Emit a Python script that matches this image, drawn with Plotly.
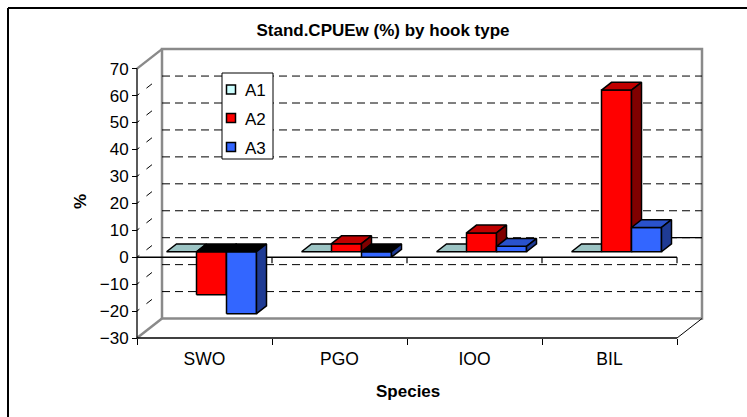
import plotly.graph_objects as go

# ---- data -------------------------------------------------------------
species = ["SWO", "PGO", "IOO", "BIL"]
hook_types = ["A1", "A2", "A3"]
a1 = [0, 0, 0, 0]
a2 = [-16, 3, 7, 60]
a3 = [-23, -2, 2, 9]
y_ticks = list(range(-30, 80, 10))

# ---- geometry (pixel frame of the 747x417 page) -------------------------
W, H = 747, 417
X0_PX, CAT_PX = 137.0, 135.0      # front value axis, width of one category
Y0_PX, UNIT_PX = 257.2, 2.694     # front zero level, pixels per percent
DEPTH_PX = (25.0, 19.5)           # oblique depth of the walls
DX = DEPTH_PX[0] / CAT_PX
DV = DEPTH_PX[1] / UNIT_PX
BAR_FRONT, BAR_BACK = 0.28, 0.68  # depth span of the columns
BAR_W = 2.0 / 9.0                 # three columns, gap width 150%
VMIN, VMAX = y_ticks[0], y_ticks[-1]
NCAT = len(species)


def px_x(px):
    return (px - X0_PX) / CAT_PX


def px_y(py):
    return (Y0_PX - py) / UNIT_PX


FONT = "Liberation Sans, Arial, sans-serif"
styles = {
    "A1": dict(front="#ccffff", top="#9cc4c4", side="#6f9696"),
    "A2": dict(front="#ff0000", top="#c00000", side="#800000"),
    "A3": dict(front="#3366ff", top="#2a52cc", side="#1f3b94"),
}

fig = go.Figure()
shapes = []
annotations = []


def seg(x0, y0, x1, y1, color="black", width=1.0, dash="solid", layer="below"):
    shapes.append(dict(type="line", xref="x", yref="y", x0=x0, y0=y0, x1=x1, y1=y1,
                       line=dict(color=color, width=width, dash=dash), layer=layer))


def face(xs, ys, color):
    fig.add_trace(go.Scatter(x=xs + [xs[0]], y=ys + [ys[0]], mode="lines", fill="toself",
                             fillcolor=color, line=dict(color="black", width=1.5),
                             hoverinfo="skip", showlegend=False))


# ---- walls, floor and gridlines ------------------------------------------
WALL = "#8a8a8a"
shapes.append(dict(type="rect", xref="x", yref="y", x0=DX, y0=VMIN + DV, x1=NCAT + DX,
                   y1=VMAX + DV, line=dict(color=WALL, width=2.5), fillcolor="white",
                   layer="below"))
seg(0, VMAX, DX, VMAX + DV, WALL, 2.5)
seg(0, VMIN, DX, VMIN + DV, WALL, 2.5)
seg(NCAT, VMIN, NCAT + DX, VMIN + DV, "black", 1.0)

for v in y_ticks[1:-1]:
    seg(DX, v + DV, NCAT + DX, v + DV, "black", 1.0, "8px,5px")
    seg(0, v, DX, v + DV, "black", 1.0, "3px,9px,7px,30px")
seg(px_x(663), DV, NCAT + DX, DV, "black", 1.2)

# value axis, category axis at the bottom and the zero axis
seg(0, VMIN, 0, VMAX, "black", 1.3)
seg(0, VMIN, NCAT, VMIN, "black", 1.5)
seg(0, 0, NCAT, 0, "black", 1.5)
for k in range(1, NCAT + 1):
    seg(k, 0, k, -6.0 / UNIT_PX, "black", 1.2)

# ---- 3-D columns -----------------------------------------------------------
series = [a1, a2, a3]
zf = DV * BAR_FRONT
ddx = DX * (BAR_BACK - BAR_FRONT)
ddv = DV * (BAR_BACK - BAR_FRONT)
for i in range(NCAT):
    for j, (name, vals) in enumerate(zip(hook_types, series)):
        v = vals[i]
        st = styles[name]
        x0 = i + 0.5 - 1.5 * BAR_W + j * BAR_W + DX * BAR_FRONT
        x1 = x0 + BAR_W
        lo, hi = zf + min(v, 0), zf + max(v, 0)
        if v != 0:
            face([x0, x1, x1, x0], [lo, lo, hi, hi], st["front"])
        face([x0, x1, x1 + ddx, x0 + ddx], [hi, hi, hi + ddv, hi + ddv],
             st["top"] if v >= 0 else "black")
        if v != 0:
            face([x1, x1 + ddx, x1 + ddx, x1], [lo, lo + ddv, hi + ddv, hi], st["side"])

# ---- legend box --------------------------------------------------------------
shapes.append(dict(type="rect", xref="x", yref="y", x0=px_x(222), y0=px_y(73),
                   x1=px_x(273), y1=px_y(159), line=dict(color="black", width=1),
                   fillcolor="white", layer="above"))
for name, cy in zip(hook_types, [89.5, 118.0, 147.0]):
    shapes.append(dict(type="rect", xref="x", yref="y", x0=px_x(226.5), y0=px_y(cy + 4.5),
                       x1=px_x(235.5), y1=px_y(cy - 4.5), line=dict(color="black", width=1.5),
                       fillcolor=styles[name]["front"], layer="above"))
    annotations.append(dict(x=px_x(243), y=px_y(cy + 1), xref="x", yref="y", text=name,
                            showarrow=False, xanchor="left", yanchor="middle",
                            font=dict(family=FONT, size=17, color="black")))

# ---- axis titles ---------------------------------------------------------------
annotations.append(dict(x=px_x(80), y=px_y(202), xref="x", yref="y", text="<b>%</b>",
                        textangle=-90, showarrow=False, xanchor="center", yanchor="middle",
                        font=dict(family=FONT, size=17, color="black")))
annotations.append(dict(x=px_x(407.5), y=px_y(391), xref="x", yref="y", text="<b>Species</b>",
                        showarrow=False, xanchor="center", yanchor="middle",
                        font=dict(family=FONT, size=17, color="black")))

# outer frame of the chart area
shapes.append(dict(type="line", xref="paper", yref="paper", x0=8 / W, y0=1 - 8 / H,
                   x1=1.0, y1=1 - 8 / H, line=dict(color="black", width=2)))
shapes.append(dict(type="line", xref="paper", yref="paper", x0=8 / W, y0=1 - 8 / H,
                   x1=8 / W, y1=0, line=dict(color="black", width=2)))

fig.update_layout(
    width=W, height=H, autosize=False,
    margin=dict(l=0, r=0, t=0, b=0, pad=0),
    paper_bgcolor="white", plot_bgcolor="white",
    showlegend=False,
    title=dict(text="<b>Stand.CPUEw (%) by hook type</b>", x=383 / W, y=1 - 30.5 / H,
               xanchor="center", yanchor="middle",
               font=dict(family=FONT, size=17, color="black")),
    xaxis=dict(range=[px_x(0), px_x(W)], anchor="free", position=1 - 338 / H,
               tickmode="array", tickvals=[k + 0.5 for k in range(NCAT)], ticktext=species,
               ticks="", ticklabelstandoff=8, showgrid=False, zeroline=False, showline=False,
               minor=dict(tickmode="array", tickvals=list(range(NCAT + 1)), ticks="outside",
                          ticklen=6, tickwidth=1.2, tickcolor="black", showgrid=False),
               tickfont=dict(family=FONT, size=17.5, color="black"), fixedrange=True),
    yaxis=dict(range=[px_y(H), px_y(0)], anchor="free", position=X0_PX / W,
               tickmode="array", tickvals=y_ticks, ticks="outside", ticklen=5,
               tickwidth=1.2, tickcolor="black", showgrid=False, zeroline=False,
               showline=False, tickfont=dict(family=FONT, size=17, color="black"),
               fixedrange=True),
    shapes=shapes,
    annotations=annotations,
)

fig.write_html("out.html")
